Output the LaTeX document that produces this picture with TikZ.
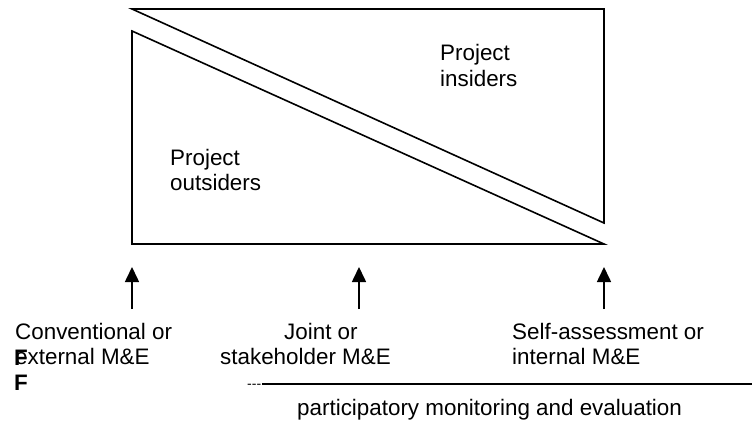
\documentclass[tikz,border=0pt]{standalone}
\usepackage{fontspec}
\setmainfont{Liberation Sans}
\usetikzlibrary{arrows.meta}
\begin{document}
\begin{tikzpicture}[x=1pt,y=-1pt,
  tri/.style={draw, line width=1.6pt, line join=miter},
  lbl/.style={anchor=base west, inner sep=0pt, font=\fontsize{22.4}{25.7}\selectfont},
  blbl/.style={lbl, font=\fontsize{22.4}{25.7}\selectfont\bfseries},
  up/.style={-{Triangle[width=14pt,length=15pt]}, line width=1.6pt}]
\useasboundingbox (0,0) rectangle (752,423);
% triangles
\draw[tri] (132,9) -- (604,9) -- (604,223) -- cycle;
\draw[tri] (132,31) -- (132,244) -- (604,244) -- cycle;
% labels inside
\node[lbl] (pin1) at (440,60) {Project};
\node[lbl] (pin2) at (440,86) {insiders};
\node[lbl] (pout1) at (170,165) {Project};
\node[lbl] (pout2) at (170,190) {outsiders};
% arrows
\coordinate (a1s) at (132,309); \coordinate (a1e) at (132,267);
\coordinate (a2s) at (359,309); \coordinate (a2e) at (359,267);
\coordinate (a3s) at (604,309); \coordinate (a3e) at (604,267);
\draw[up] (a1s) -- (a1e);
\draw[up] (a2s) -- (a2e);
\draw[up] (a3s) -- (a3e);
% bottom labels
\node[lbl] (c1) at (15,339) {Conventional or};
\node[lbl] (c2) at (15,364) {external M\&E};
\node[lbl] (j1) at (284,339) {Joint or};
\node[lbl] (j2) at (220,364) {stakeholder M\&E};
\node[lbl] (s1) at (512,339) {Self-assessment or};
\node[lbl] (s2) at (512,364) {internal M\&E};
\node[blbl] (f1) at (14,365) {F};
\node[blbl] (f2) at (14,390) {F};
\node[lbl, font=\fontsize{14}{16}\selectfont] (dd) at (247,388) {-{}-{}-};
\coordinate (ls) at (262,384);
\coordinate (le) at (752,384);
\draw[line width=1.6pt] (ls) -- (le);
\node[lbl] (pme) at (297,415) {participatory monitoring and evaluation};
\end{tikzpicture}
\end{document}
